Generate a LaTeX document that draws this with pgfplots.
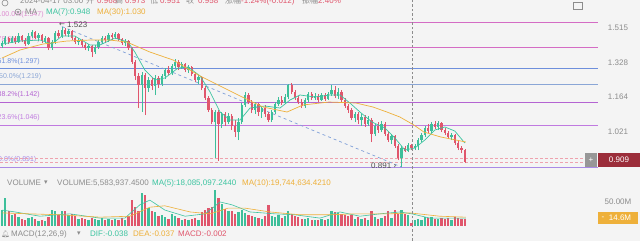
\documentclass[border=0pt]{standalone}
\usepackage{pgfplots}
\pgfplotsset{compat=1.18}
\usepackage{pgfplotstable}
\usepackage{fontspec}
\setmainfont{Liberation Sans}
\newfontfamily\cjk{Noto Sans CJK SC}
\newfontfamily\dejavu{DejaVu Sans}
\newfontfamily\emoji{Noto Emoji}
\definecolor{bg}{HTML}{F4F4F4}
\definecolor{upc}{HTML}{3DBF9A}
\definecolor{dnc}{HTML}{E0566C}
\definecolor{ma7}{HTML}{3CC4A0}
\definecolor{ma30}{HTML}{EEB03A}
\definecolor{fibA}{HTML}{D46CC4}
\definecolor{fibB}{HTML}{6E8FDC}
\definecolor{fibC}{HTML}{8AA6D6}
\definecolor{fibD}{HTML}{B464D2}
\definecolor{fibE}{HTML}{C07AE0}
\definecolor{fibF}{HTML}{A98AE6}
\definecolor{lbl}{HTML}{8C8C8C}
\definecolor{dark}{HTML}{505050}
\definecolor{trend}{HTML}{7F9FD8}
\definecolor{pricebox}{HTML}{9B2D3A}
\newcommand\fs{\fontsize{8}{9}\selectfont}
\newcommand\fsf{\fontsize{7}{8}\selectfont}

\pgfplotstableread{
i o h l c v
0 1.4139 1.4411 1.4031 1.4302 33
1 1.4302 1.4688 1.4193 1.4576 58
2 1.4576 1.4632 1.4247 1.4356 30
3 1.4356 1.4688 1.4302 1.4576 22
4 1.4576 1.4688 1.4247 1.4356 25
5 1.4356 1.4857 1.4302 1.4688 18
6 1.4688 1.4744 1.4356 1.4466 14
7 1.4466 1.4576 1.4139 1.4247 12
8 1.4247 1.4857 1.4193 1.4688 16
9 1.4688 1.5028 1.4576 1.4914 18
10 1.4914 1.4971 1.4521 1.4576 14
11 1.4576 1.4857 1.4411 1.4744 10
12 1.4744 1.4800 1.4302 1.4411 12
13 1.4411 1.4688 1.4302 1.4576 9
14 1.4576 1.4632 1.3925 1.4031 18
15 1.4031 1.4466 1.3925 1.4356 33
16 1.4356 1.4971 1.4247 1.4857 30
17 1.4857 1.5028 1.4576 1.4688 22
18 1.4688 1.5230 1.4576 1.5028 31
19 1.5028 1.5143 1.4688 1.4800 30
20 1.4800 1.5086 1.4632 1.4971 22
21 1.4971 1.5028 1.4466 1.4576 24
22 1.4576 1.4688 1.4247 1.4356 20
23 1.4356 1.4576 1.4193 1.4466 14
24 1.4466 1.4521 1.4085 1.4193 16
25 1.4193 1.4302 1.3925 1.4031 14
26 1.4031 1.4247 1.3872 1.4139 12
27 1.4139 1.4193 1.3558 1.3819 17
28 1.3819 1.4193 1.3714 1.4085 15
29 1.4085 1.4466 1.3978 1.4356 13
30 1.4356 1.4688 1.4247 1.4576 16
31 1.4576 1.4688 1.4302 1.4466 12
32 1.4466 1.4857 1.4356 1.4744 14
33 1.4744 1.4857 1.4466 1.4632 11
34 1.4632 1.4914 1.4521 1.4800 15
35 1.4800 1.4857 1.4411 1.4521 13
36 1.4521 1.4576 1.4193 1.4302 17
37 1.4302 1.4521 1.4139 1.4411 12
38 1.4411 1.4466 1.3925 1.4031 20
39 1.4031 1.4085 1.3200 1.3301 54
40 1.3301 1.3403 1.2418 1.2609 40
41 1.2609 1.2755 1.1160 1.2184 30
42 1.2184 1.2803 1.0991 1.2658 68
43 1.2658 1.2755 1.0866 1.2045 65
44 1.2045 1.2561 1.1862 1.2418 38
45 1.2418 1.2513 1.1953 1.2137 32
46 1.2137 1.2658 1.1728 1.2513 28
47 1.2513 1.2609 1.2045 1.2230 20
48 1.2230 1.2706 1.2137 1.2609 22
49 1.2609 1.3000 1.2466 1.2901 18
50 1.2901 1.3100 1.2658 1.2755 15
51 1.2755 1.3200 1.2658 1.3100 24
52 1.3100 1.3455 1.3000 1.3301 20
53 1.3301 1.3403 1.2901 1.3050 17
54 1.3050 1.3301 1.2951 1.3200 13
55 1.3200 1.3251 1.2803 1.2901 15
56 1.2901 1.3150 1.2755 1.3050 12
57 1.3050 1.3100 1.2609 1.2706 14
58 1.2706 1.2803 1.2324 1.2418 17
59 1.2418 1.2658 1.2230 1.2561 12
60 1.2561 1.2609 1.1953 1.2045 28
61 1.2045 1.2137 1.1506 1.1594 33
62 1.1594 1.1683 1.0991 1.1075 38
63 1.1075 1.1160 1.0499 1.0579 40
64 1.0579 1.1075 0.9221 1.0991 75
65 1.0991 1.1075 0.9116 1.0499 58
66 1.0499 1.0991 1.0340 1.0908 45
67 1.0908 1.0991 1.0419 1.0579 35
68 1.0579 1.0949 1.0499 1.0824 30
69 1.0824 1.0908 1.0261 1.0419 32
70 1.0419 1.0660 0.9991 1.0183 25
71 1.0183 1.0742 0.9877 1.0579 28
72 1.0579 1.1375 1.0499 1.1289 33
73 1.1289 1.1862 1.1203 1.1728 26
74 1.1728 1.1817 1.1332 1.1418 22
75 1.1418 1.1506 1.0949 1.1075 20
76 1.1075 1.1418 1.0908 1.1332 18
77 1.1332 1.1375 1.0824 1.0991 16
78 1.0991 1.1246 1.0742 1.1160 14
79 1.1160 1.1289 1.0783 1.0908 20
80 1.0908 1.0991 1.0579 1.0660 44
81 1.0660 1.1075 1.0579 1.0991 20
82 1.0991 1.1418 1.0908 1.1332 18
83 1.1332 1.1638 1.1246 1.1506 22
84 1.1506 1.1683 1.1289 1.1375 17
85 1.1375 1.1772 1.1332 1.1638 20
86 1.1638 1.2230 1.1550 1.2184 32
87 1.2184 1.2277 1.1772 1.1862 25
88 1.1862 1.1953 1.1506 1.1594 20
89 1.1594 1.1683 1.1332 1.1418 18
90 1.1418 1.1550 1.1160 1.1246 15
91 1.1246 1.1594 1.1160 1.1506 14
92 1.1506 1.1862 1.1418 1.1772 16
93 1.1772 1.1862 1.1506 1.1594 12
94 1.1594 1.1817 1.1506 1.1683 13
95 1.1683 1.1772 1.1418 1.1506 11
96 1.1506 1.1817 1.1462 1.1728 14
97 1.1728 1.1817 1.1462 1.1550 12
98 1.1550 1.1862 1.1506 1.1772 15
99 1.1772 1.2184 1.1683 1.1953 32
100 1.1953 1.2137 1.1594 1.1683 28
101 1.1683 1.2045 1.1550 1.1862 26
102 1.1862 1.1953 1.1418 1.1506 25
103 1.1506 1.1594 1.1160 1.1246 22
104 1.1246 1.1332 1.0949 1.1075 20
105 1.1075 1.1160 1.0660 1.0742 23
106 1.0742 1.0991 1.0579 1.0908 15
107 1.0908 1.0991 1.0499 1.0660 18
108 1.0660 1.0908 1.0419 1.0783 14
109 1.0783 1.0866 1.0380 1.0499 16
110 1.0499 1.0824 1.0419 1.0660 13
111 1.0660 1.0742 0.9802 1.0106 32
112 1.0106 1.0499 1.0029 1.0419 18
113 1.0419 1.0579 1.0145 1.0261 15
114 1.0261 1.0620 1.0183 1.0499 17
115 1.0499 1.0579 1.0029 1.0106 20
116 1.0106 1.0183 0.9802 0.9877 31
117 0.9877 1.0106 0.9728 1.0029 16
118 1.0029 1.0067 0.9580 0.9654 33
119 0.9654 0.9728 0.9151 0.9221 25
120 0.9221 0.9654 0.8910 0.9580 33
121 0.9580 0.9654 0.9435 0.9471 24
122 0.9471 0.9765 0.9435 0.9680 22
123 0.9680 0.9730 0.9510 0.9580 5.58
124 0.9580 0.9728 0.9507 0.9654 12
125 0.9654 0.9953 0.9507 0.9877 15
126 0.9877 1.0145 0.9802 1.0067 13
127 1.0067 1.0419 0.9991 1.0340 18
128 1.0340 1.0499 1.0145 1.0222 16
129 1.0222 1.0579 1.0145 1.0499 19
130 1.0499 1.0620 1.0301 1.0380 15
131 1.0380 1.0620 1.0261 1.0539 14
132 1.0539 1.0579 1.0183 1.0261 17
133 1.0261 1.0340 1.0067 1.0145 14
134 1.0145 1.0222 0.9915 0.9991 16
135 0.9991 1.0145 0.9877 1.0067 12
136 1.0067 1.0106 0.9691 0.9765 18
137 0.9765 0.9840 0.9507 0.9580 17
138 0.9580 0.9654 0.9399 0.9507 15
139 0.9507 0.9544 0.9047 0.9090 14.6
}\candles

\begin{document}
\begin{tikzpicture}
\path[use as bounding box, fill=bg] (0pt,0pt) rectangle (640pt,241pt);

% Fibonacci level labels (left, partly cut)
\begin{scope}[every node/.style={anchor=west, inner sep=0pt, font=\fsf}]
\node[text=fibA!80] at (-2.5pt,226pt) {100.0\%(1.547)};
\node[text=fibA!80] at (-2.5pt,201pt) {78.6\%(1.407)};
\node[text=fibB] at (-2.5pt,179pt) {61.8\%(1.297)};
\node[text=fibC] at (-1pt,164pt) {50.0\%(1.219)};
\node[text=fibD] at (-2.5pt,146pt) {38.2\%(1.142)};
\node[text=fibE] at (-2.5pt,123pt) {23.6\%(1.046)};
\node[text=fibF] at (-2pt,81pt) {0.0\%(0.891)};
\end{scope}

% ---------- price panel ----------
\begin{axis}[at={(0pt,71pt)}, anchor=south west, scale only axis,
  width=598pt, height=170pt, xmin=-0.6, xmax=179,
  ymode=log, ymin=0.8809, ymax=1.6855,
  axis line style={draw=none}, major tick length=0pt,
  xtick=\empty, ytick={1.021,1.164,1.328,1.515},
  yticklabels={1.021,1.164,1.328,1.515}, yticklabel pos=right,
  yticklabel style={font=\fs, text=lbl, anchor=center, xshift=20pt}]
\addplot[fibA, line width=0.8pt] coordinates {(-0.6,1.547) (179,1.547)};
\addplot[fibA, line width=0.8pt] coordinates {(-0.6,1.407) (179,1.407)};
\addplot[fibB, line width=0.8pt] coordinates {(-0.6,1.297) (179,1.297)};
\addplot[fibC, line width=1pt] coordinates {(-0.6,1.219) (179,1.219)};
\addplot[fibD, line width=0.8pt] coordinates {(-0.6,1.142) (179,1.142)};
\addplot[fibE, line width=0.8pt] coordinates {(-0.6,1.046) (179,1.046)};
\addplot[fibF, line width=0.8pt] coordinates {(-0.6,0.891) (179,0.891)};
\addplot[dnc!55, line width=0.5pt, dash pattern=on 3pt off 2pt] coordinates {(-0.6,0.922) (174.5,0.922)};
\addplot[dnc!55, line width=0.5pt, dash pattern=on 3pt off 2pt] coordinates {(-0.6,0.909) (174.5,0.909)};
\addplot[trend, line width=0.7pt, dash pattern=on 3pt off 3pt] coordinates {(18,1.523) (120,0.891)};
\pgfplotsinvokeforeach{0,...,139}{%
  \pgfplotstablegetelem{#1}{o}\of\candles \let\cO\pgfplotsretval
  \pgfplotstablegetelem{#1}{h}\of\candles \let\cH\pgfplotsretval
  \pgfplotstablegetelem{#1}{l}\of\candles \let\cL\pgfplotsretval
  \pgfplotstablegetelem{#1}{c}\of\candles \let\cC\pgfplotsretval
  \pgfmathtruncatemacro\cUp{\cC>=\cO}%
  \ifnum\cUp=1 \def\cCol{upc}\else\def\cCol{dnc}\fi
  \edef\cTmp{\noexpand\addplot[\cCol, line width=0.6pt, forget plot] coordinates {(#1,\cL) (#1,\cH)};}\cTmp
  \edef\cTmp{\noexpand\addplot[\cCol, line width=2.3pt, forget plot] coordinates {(#1,\cO) (#1,\cC)};}\cTmp
}
\addplot[ma7, line width=0.7pt, line join=round] coordinates {
(0,1.4247) (5.4,1.4411) (11.4,1.4466) (15,1.4247) (18,1.4688) (21.9,1.4688)
(26.4,1.4193) (29.4,1.4193) (33.9,1.4576) (37.8,1.4356) (39.9,1.3819)
(42.9,1.2901) (45.9,1.2418) (48.9,1.2513) (52.9,1.3000) (55.9,1.3050)
(59.5,1.2609) (62.5,1.1862) (65.5,1.0991) (68.5,1.0660) (71.5,1.0660)
(74.5,1.1160) (79,1.1246) (83.5,1.1160) (86.5,1.1506) (89.5,1.1728)
(94,1.1638) (98.5,1.1728) (101.5,1.1728) (104.5,1.1375) (107.5,1.0991)
(111.1,1.0579) (115,1.0340) (118,0.9953) (121,0.9507) (124,0.9580)
(127,0.9877) (130,1.0261) (133,1.0380) (136,1.0222) (139,0.9765)};
\addplot[ma30, line width=0.7pt, line join=round] coordinates {
(0,1.3506) (5.4,1.3925) (12.3,1.4247) (19.5,1.4411) (26.4,1.4466)
(32.4,1.4466) (37.5,1.4356) (44.4,1.3819) (51.4,1.3403) (59.5,1.2609)
(64.9,1.2184) (70.9,1.1728) (78.4,1.1203) (85.6,1.0991) (90.4,1.1289)
(98.2,1.1418) (106.3,1.1375) (111.4,1.1203) (115.6,1.0991) (119.5,1.0783)
(123.7,1.0459) (126.7,1.0183) (131.8,0.9991) (139.3,0.9802)};
\end{axis}

% ---------- volume panel ----------
\begin{axis}[at={(0pt,15.3pt)}, anchor=south west, scale only axis,
  width=598pt, height=37.7pt, xmin=-0.6, xmax=179, ymin=0, ymax=79.5,
  axis line style={draw=none}, major tick length=0pt,
  xtick=\empty, ytick={50}, yticklabels={50.00M}, yticklabel pos=right,
  yticklabel style={font=\fs, text=lbl, anchor=center, xshift=20pt}]
\pgfplotsinvokeforeach{0,...,139}{%
  \pgfplotstablegetelem{#1}{o}\of\candles \let\cO\pgfplotsretval
  \pgfplotstablegetelem{#1}{c}\of\candles \let\cC\pgfplotsretval
  \pgfplotstablegetelem{#1}{v}\of\candles \let\cV\pgfplotsretval
  \pgfmathtruncatemacro\cUp{\cC>=\cO}%
  \ifnum\cUp=1 \def\cCol{upc}\else\def\cCol{dnc}\fi
  \edef\cTmp{\noexpand\addplot[\cCol, line width=2.3pt, forget plot] coordinates {(#1,0) (#1,\cV)};}\cTmp
}
\addplot[ma7, line width=0.6pt, line join=round] coordinates {
(0,33) (3.9,29) (11.4,20) (20.4,25) (29.4,16) (36.9,16) (41.4,44) (44.4,54)
(48.9,33) (55,20) (61,25) (65.5,50) (69.1,44) (74.5,29) (82,25) (88,23)
(95.5,16) (101.5,29) (107.5,20) (113.5,25) (119.5,29) (123.1,25) (128.5,16) (139.3,16)};
\addplot[ma30, line width=0.6pt, line join=round] coordinates {
(0,27) (8.4,25) (17.4,23) (29.4,18) (38.4,20) (44.4,39) (48.9,42) (56.5,29)
(62.5,25) (67.9,37) (73,37) (80.5,29) (89.5,23) (98.5,23) (106,25) (116.5,25)
(122.5,27) (131.5,20) (139.3,18)};
\end{axis}

% crosshair
\draw[lbl, line width=0.5pt, dash pattern=on 2.5pt off 2pt] (412pt,0pt) -- (412pt,241pt);

% header row (cut at top)
\draw[lbl, line width=0.6pt] (5pt,238pt) circle (3pt);
\begin{scope}[every node/.style={anchor=base west, inner sep=0pt, font=\fs}]
\node[text=lbl] at (20pt,237.5pt) {2024-04-17 03:00};
\node[text=lbl] at (86pt,237.5pt) {\cjk 开};
\node[text=dnc] at (97pt,237.5pt) {0.968};
\node[text=lbl] at (115pt,237.5pt) {\cjk 高};
\node[text=dnc] at (125pt,237.5pt) {0.973};
\node[text=lbl] at (150pt,237.5pt) {\cjk 低};
\node[text=dnc] at (160pt,237.5pt) {0.951};
\node[text=lbl] at (186pt,237.5pt) {\cjk 收};
\node[text=dnc] at (198pt,237.5pt) {0.958};
\node[text=lbl] at (225pt,237.5pt) {\cjk 涨幅};
\node[text=dnc] at (241pt,237.5pt) {-1.24\%(-0.012)};
\node[text=lbl] at (302pt,237.5pt) {\cjk 振幅};
\node[text=dnc] at (318pt,237.5pt) {2.40\%};
\end{scope}

% MA legend row
\draw[lbl, line width=0.6pt] (18pt,229pt) circle (3pt);
\fill[lbl] (18pt,229pt) circle (1.2pt);
\begin{scope}[every node/.style={anchor=west, inner sep=0pt, font=\fs}]
\node[text=lbl] at (25pt,229pt) {MA};
\node[text=ma7] at (46pt,229pt) {MA(7):0.948};
\node[text=ma30] at (97pt,229pt) {MA(30):1.030};
\node[text=dark] at (59pt,216pt) {\dejavu\fontsize{7}{8}\selectfont ←};
\node[text=dark] at (67pt,216pt) {1.523};
\node[text=dark] at (371pt,75pt) {0.891 {\dejavu ›}};
% volume header
\node[text=lbl] at (7pt,58pt) {VOLUME};
\node[text=lbl] at (44pt,58pt) {\dejavu\fontsize{7}{8}\selectfont ▾};
\node[text=lbl] at (57pt,58pt) {VOLUME:5,583,937.4500};
\node[text=ma7] at (152pt,58pt) {MA(5):18,085,097.2440};
\node[text=ma30] at (242pt,58pt) {MA(10):19,744,634.4210};
% MACD row
\node[text=lbl] at (1pt,7pt) {\emoji\fontsize{7}{8}\selectfont 🔔};
\node[text=lbl] at (11pt,7pt) {MACD(12,26,9)};
\node[text=lbl] at (77pt,7pt) {\dejavu\fontsize{7}{8}\selectfont ▾};
\node[text=ma7] at (90pt,7pt) {DIF:-0.038};
\node[text=ma30] at (133pt,7pt) {DEA:-0.037};
\node[text=dnc] at (178pt,7pt) {MACD:-0.002};
\end{scope}

% right-side boxes
\fill[lbl!90] (585pt,74pt) rectangle (597pt,88pt);
\node[text=white, font=\fs] at (591pt,81pt) {+};
\fill[pricebox] (598pt,74pt) rectangle (640pt,88pt);
\node[text=white, font=\fs] at (619pt,81pt) {0.909};
\fill[ma30] (598pt,17pt) rectangle (638pt,29pt);
\node[text=white, font=\fs] at (603pt,23pt) {-};
\node[text=white, font=\fs] at (620pt,23pt) {14.6M};
\draw[lbl, line width=0.4pt] (573pt,232pt) rectangle (582pt,239pt);
\end{tikzpicture}
\end{document}
